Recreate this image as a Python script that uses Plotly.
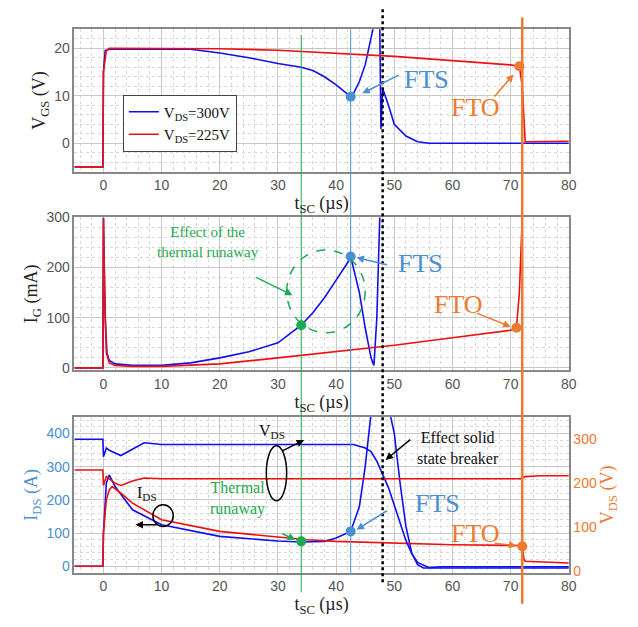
import plotly.graph_objects as go

# ---- data ----
vgs_b_t = [-5,-0.1,0,0.3,1,5,15,20,25,30,34,36,38,40,42,42.5,43,44,45,46,46.5,47,47.5,47.7,48,49,50,52,54,56,60,80]
vgs_b_v = [-5,-5,15,19.5,19.8,19.8,19.8,19,18,16.8,16,15.3,14,12.3,10.3,9.8,10.5,13,16.5,22,25,25,25,3,11.5,8,4,1.5,0.3,0,0,0]
vgs_r_t = [-5,-0.1,0,0.5,1,10,20,30,40,50,60,70,71.5,72,72.3,72.5,80]
vgs_r_v = [-5,-5,15,19.5,20,20,19.9,19.6,19,18.3,17.4,16.5,16.2,12,5,0.3,0.4]

ig_b_t = [-5,-0.1,0,0.3,0.6,1,2,5,10,15,20,25,30,34,36,38,40,42,42.5,44,45,46,46.5,47,47.5,48]
ig_b_v = [0,0,300,100,30,15,8,5,5,10,20,32,50,85,110,140,175,210,222,150,80,20,5,100,300,320]
ig_r_t = [-5,-0.1,0,0.2,0.5,1,2,5,10,20,30,40,50,60,70,71,71.5,72,72.2]
ig_r_v = [0,0,300,150,30,10,5,3,3,8,20,32,45,60,75,80,150,300,320]

ids_b_t = [-5,-0.1,0,0.5,1,2,5,10,20,30,34,38,40,42.5,44,45,46,47,48,49,50,51,52,53,54,55,80]
ids_b_v = [0,0,100,250,275,240,170,125,90,76,73,75,85,105,180,300,460,500,500,480,400,250,120,40,5,-5,-5]
ids_r_t = [-5,-0.1,0,0.5,1,1.5,3,5,10,20,30,35,40,50,60,70,72,72.3,72.5,80]
ids_r_v = [0,0,100,200,230,240,220,190,140,105,88,80,75,70,65,63,62,20,15,10]

vds_b_t = [-5,-0.1,0,0.5,1,3,7,10,43,45,46,47,48,49,50,51,52,53,54,56,58,80]
vds_b_v = [300,300,260,280,275,263,292,288,288,280,272,250,220,190,150,110,70,40,20,8,10,10]
vds_r_t = [-5,-0.1,0,0.5,1,2,3,5,7,10,30,50,70,71.8,72.5,75,80]
vds_r_v = [230,230,195,215,210,200,195,205,212,210,210,210,210,210,215,217,217]

BLUE = "#1010ee"; RED = "#ee1010"; LB = "#4a90d0"; OR = "#ee7a30"; GR = "#1faa50"
SERIF = "Liberation Serif"; SANS = "Liberation Sans"

fig = go.Figure()
ln = lambda c: dict(color=c, width=1.6)
def tr(x, y, c, xa, ya, name=None):
    fig.add_trace(go.Scatter(x=x, y=y, mode="lines", line=ln(c), name=name, showlegend=name is not None,
                             xaxis=xa, yaxis=ya))
tr(vgs_b_t, vgs_b_v, BLUE, "x", "y", "V<sub>DS</sub>=300V")
tr(vgs_r_t, vgs_r_v, RED, "x", "y", "V<sub>DS</sub>=225V")
tr(ig_b_t, ig_b_v, BLUE, "x2", "y2")
tr(ig_r_t, ig_r_v, RED, "x2", "y2")
tr(ids_b_t, ids_b_v, BLUE, "x3", "y3")
tr(ids_r_t, ids_r_v, RED, "x3", "y3")
tr(vds_b_t, vds_b_v, BLUE, "x3", "y4")
tr(vds_r_t, vds_r_v, RED, "x3", "y4")

def dots(xs, ys, cols, xa, ya):
    fig.add_trace(go.Scatter(x=xs, y=ys, mode="markers", marker=dict(color=cols, size=10),
                             showlegend=False, xaxis=xa, yaxis=ya))
dots([42.5, 71.5], [9.8, 16.2], [LB, OR], "x", "y")
dots([34, 42.5, 71], [85, 222, 80], [GR, LB, OR], "x2", "y2")
dots([34, 42.5, 72], [75, 105, 60], [GR, LB, OR], "x3", "y3")

xd = [0.104, 0.879]
tick = dict(family=SANS, size=14, color="#555")
def xax(anchor):
    return dict(domain=xd, range=[-5, 80], anchor=anchor, dtick=10, tickfont=tick, automargin=False,
                showgrid=True, gridcolor="#c8c8c8", zeroline=False, showline=True, mirror=True,
                linecolor="#888", linewidth=1.5, ticks="",
                minor=dict(dtick=2, showgrid=True, gridcolor="#d8d8d8", griddash="dot"),
                title=dict(text="t<sub>SC</sub> (µs)", font=dict(family=SERIF, size=18, color="#222"), standoff=2))
def yax(dom, rng, dt, mdt, title, anchor, tcol="#555", side="left", over=None, grid=True):
    d = dict(domain=dom, range=rng, dtick=dt, anchor=anchor, automargin=False,
             tickfont=dict(family=SANS, size=14, color=tcol),
             showgrid=grid, gridcolor="#c8c8c8", zeroline=False, showline=True, mirror=True,
             linecolor="#888", linewidth=1.5, side=side, ticks="",
             title=dict(text=title, font=dict(family=SERIF, size=18, color=tcol if tcol != "#555" else "#222"), standoff=4))
    if grid:
        d["minor"] = dict(dtick=mdt, showgrid=True, gridcolor="#d8d8d8", griddash="dot")
    if over:
        d["overlaying"] = over
    return d

fig.update_layout(
    width=638, height=627, margin=dict(l=0, r=0, t=0, b=0, autoexpand=False),
    plot_bgcolor="white", paper_bgcolor="white",
    xaxis=xax("y"), xaxis2=xax("y2"), xaxis3=xax("y3"),
    yaxis=yax([0.739, 0.966], [-6, 24], 10, 2, "V<sub>GS</sub> (V)", "x"),
    yaxis2=yax([0.422, 0.666], [-5, 300], 100, 20, "I<sub>G</sub> (mA)", "x2"),
    yaxis3=yax([0.099, 0.348], [-20, 450], 100, 20, "I<sub>DS</sub> (A)", "x3", tcol=LB),
    yaxis4=yax([0.099, 0.348], [-4, 351], 100, 20, "V<sub>DS</sub> (V)", "x3", tcol=OR, side="right", over="y3", grid=False),
    legend=dict(x=0.18, y=0.862, xanchor="left", yanchor="top", bgcolor="white",
                bordercolor="#444", borderwidth=1, font=dict(family=SERIF, size=15, color="#111")),
    showlegend=True,
)

for x, c, d, w, y0, y1 in [(34, GR, "solid", 1, 0.068, 0.957), (42.5, LB, "solid", 1, 0.099, 0.966),
                           (48, "black", "dot", 2.5, 0.084, 1.0), (72, OR, "solid", 2.5, 0.05, 0.985)]:
    fig.add_shape(type="line", xref="x3", yref="paper", x0=x, x1=x, y0=y0, y1=y1,
                  line=dict(color=c, width=w, dash=d))

fig.add_shape(type="circle", xref="x2", yref="y2", x0=31.5, x1=45, y0=70, y1=235,
              line=dict(color=GR, width=1.5, dash="dash"))
fig.add_shape(type="circle", xref="x3", yref="y4", x0=28, x1=31.5, y0=160, y1=285, line=dict(color="black", width=1.5))
fig.add_shape(type="circle", xref="x3", yref="y3", x0=8.5, x1=12, y0=120, y1=185, line=dict(color="black", width=1.5))

def ann(text, x, y, xa, ya, col, size, ax=None, ay=None, ac=None, font=SANS):
    a = dict(text=text, x=x, y=y, xref=xa, yref=ya, font=dict(family=font, size=size, color=col), showarrow=False)
    if ax is not None:
        a.update(showarrow=True, ax=ax, ay=ay, axref=xa, ayref=ya, arrowhead=2, arrowsize=1,
                 arrowwidth=1.5, arrowcolor=ac or col, standoff=0)
    fig.add_annotation(**a)

ann("", 44.5, 10.5, "x", "y", LB, 10, 51, 14.5)
ann("FTS", 55.5, 13.5, "x", "y", LB, 26, font=SERIF)
ann("", 70.5, 14.5, "x", "y", OR, 10, 67, 9.5)
ann("FTO", 64, 7.5, "x", "y", OR, 26, font=SERIF)
ann("", 43.5, 220, "x2", "y2", LB, 10, 49, 205)
ann("FTS", 54.5, 208, "x2", "y2", LB, 26, font=SERIF)
ann("", 70, 82, "x2", "y2", OR, 10, 64, 110)
ann("FTO", 61, 127, "x2", "y2", OR, 26, font=SERIF)
ann("Effect of the<br>thermal runaway", 18, 250, "x2", "y2", GR, 15, font=SERIF)
ann("", 32.5, 145, "x2", "y2", GR, 10, 26, 182)
ann("", 43.5, 110, "x3", "y3", LB, 10, 49, 170)
ann("FTS", 57.5, 190, "x3", "y3", LB, 26, font=SERIF)
ann("", 71, 62, "x3", "y3", OR, 10, 67, 70)
ann("FTO", 64, 100, "x3", "y3", OR, 26, font=SERIF)
ann("Thermal<br>runaway", 23, 205, "x3", "y3", GR, 16, font=SERIF)
ann("", 33, 80, "x3", "y3", GR, 10, 30.5, 100)
ann("Effect solid<br>state breaker", 61, 355, "x3", "y3", "#111", 16, font=SERIF)
ann("", 48.5, 320, "x3", "y3", "black", 10, 53, 385)
ann("V<sub>DS</sub>", 29, 405, "x3", "y3", "#111", 16, font=SERIF)
ann("", 34.5, 380, "x3", "y3", "black", 10, 30.5, 345)
ann("I<sub>DS</sub>", 7.5, 220, "x3", "y3", "#111", 16, font=SERIF)
ann("", 5.5, 125, "x3", "y3", "black", 10, 9.5, 125)

fig.write_html("out.html")
